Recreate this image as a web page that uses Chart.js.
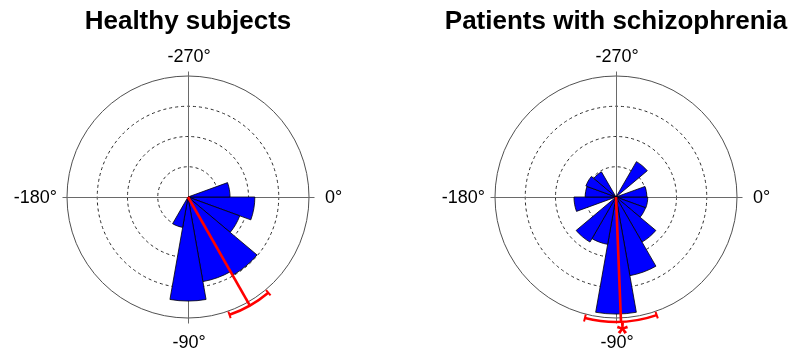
<!DOCTYPE html>
<html>
<head>
<meta charset="utf-8">
<script src="https://cdn.jsdelivr.net/npm/chart.js@4.4.1/dist/chart.umd.min.js"></script>
<style>
  html, body { margin: 0; padding: 0; background: #fff; }
  #wrap { position: relative; width: 803px; height: 354px; overflow: hidden; }
  #wrap canvas { position: absolute; top: 0; }
</style>
</head>
<body>
<div id="wrap">
  <canvas id="healthy" width="376" height="354" style="left:0px"></canvas>
  <canvas id="patients" width="372" height="354" style="left:430px"></canvas>
</div>
<script>
// 20° direction bins, listed clockwise from 0° (0..-20°, -20..-40°, ... , -340..-360°)
const binLabels = [
  '-10°', '-30°', '-50°', '-70°', '-90°', '-110°', '-130°', '-150°', '-170°',
  '-190°', '-210°', '-230°', '-250°', '-270°', '-290°', '-310°', '-330°', '-350°'
];

// Bin heights (radial units, outer ring = 40)
const healthyCounts = [22.1, 18.2, 29.8, 28.4, 34.4, 10.2, 0, 0, 0, 0, 0, 0, 0, 0, 0, 0, 0, 13.9];
const patientCounts = [10.5, 10.4, 17.2, 26.4, 38.7, 15.9, 17.2, 0, 13.9, 10.2, 10.6, 9.6, 0, 0, 0, 13.5, 0, 10.2];

// Group titles
const groupTitles = ['Healthy subjects', 'Patients with schizophrenia'];

// Mean direction (degrees) and half-width of its confidence interval
const meanDirection = [-60.3, -87.7];
const ciHalfWidth = [10.3, 16.7];
const meanLength = [41.3, 41.3];
const significant = [false, true];

// Ring values and axis direction labels
const ringValues = [0, 10, 20, 30, 40];
const axisLabels = { right: '0°', top: '-270°', left: '-180°', bottom: '-90°' };

const FONT = '"Liberation Sans", Arial, Helvetica, sans-serif';
const DEG = Math.PI / 180;
const RMAX = 40;

function polarPoint(scale, thetaDeg, value) {
  const d = scale.getDistanceFromCenterForValue(value);
  return {
    x: scale.xCenter + d * Math.cos(thetaDeg * DEG),
    y: scale.yCenter - d * Math.sin(thetaDeg * DEG)
  };
}

// Cross-hair axes through the centre (under the wedges) and the direction labels
const crossAxes = {
  id: 'crossAxes',
  beforeDatasetsDraw(chart) {
    const s = chart.scales.r;
    const ctx = chart.ctx;
    const ext = s.getDistanceFromCenterForValue(RMAX) + 5;
    const x = s.xCenter + 0.5, y = s.yCenter + 0.5;
    ctx.save();
    ctx.strokeStyle = '#6a6a6a';
    ctx.lineWidth = 1;
    ctx.beginPath();
    ctx.moveTo(x - ext, y); ctx.lineTo(x + ext, y);
    ctx.moveTo(x, y - ext); ctx.lineTo(x, y + ext);
    ctx.stroke();
    ctx.restore();
  },
  afterDraw(chart) {
    const s = chart.scales.r;
    const ctx = chart.ctx;
    const R = s.getDistanceFromCenterForValue(RMAX);
    const xc = s.xCenter, yc = s.yCenter;
    ctx.save();
    ctx.fillStyle = '#000';
    ctx.font = '18px ' + FONT;
    ctx.textBaseline = 'middle';
    ctx.textAlign = 'left';
    ctx.fillText(axisLabels.right, xc + R + 16, yc + 1);
    ctx.textAlign = 'right';
    ctx.fillText(axisLabels.left, xc - R - 10, yc + 1);
    ctx.textAlign = 'center';
    ctx.textBaseline = 'alphabetic';
    ctx.fillText(axisLabels.top, xc + 1, yc - R - 14);
    ctx.fillText(axisLabels.bottom, xc + 1, yc + R + 30);
    ctx.restore();
  }
};

// Mean direction line with its confidence arc
const meanArrow = {
  id: 'meanArrow',
  afterDatasetsDraw(chart, args, opts) {
    const s = chart.scales.r;
    const ctx = chart.ctx;
    const k = opts.group;
    const m = meanDirection[k], hw = ciHalfWidth[k], len = meanLength[k];
    const d = s.getDistanceFromCenterForValue(len);
    const end = polarPoint(s, m, len);
    ctx.save();
    ctx.strokeStyle = '#ff0000';
    ctx.lineWidth = 2.6;
    ctx.lineCap = 'butt';
    ctx.beginPath();
    ctx.moveTo(s.xCenter, s.yCenter);
    ctx.lineTo(end.x, end.y);
    ctx.stroke();
    ctx.beginPath();
    ctx.arc(s.xCenter, s.yCenter, d, -(m + hw) * DEG, -(m - hw) * DEG);
    ctx.stroke();
    ctx.lineWidth = 2;
    [m - hw, m + hw].forEach(t => {
      const c = Math.cos(t * DEG), sn = Math.sin(t * DEG);
      ctx.beginPath();
      ctx.moveTo(s.xCenter + (d - 3.5) * c, s.yCenter - (d - 3.5) * sn);
      ctx.lineTo(s.xCenter + (d + 3.5) * c, s.yCenter - (d + 3.5) * sn);
      ctx.stroke();
    });
    if (significant[k]) {
      const p = polarPoint(s, m, len + 3.2);
      ctx.fillStyle = '#ff0000';
      ctx.font = 'bold 29px ' + FONT;
      ctx.textAlign = 'center';
      ctx.textBaseline = 'alphabetic';
      ctx.fillText('*', p.x + 1, p.y + 11);
    }
    ctx.restore();
  }
};

function makeChart(canvasId, k, counts) {
  return new Chart(document.getElementById(canvasId), {
    type: 'polarArea',
    data: {
      labels: binLabels,
      datasets: [{
        label: groupTitles[k],
        data: counts,
        backgroundColor: '#0000ff',
        borderColor: '#000000',
        borderWidth: c => (c.raw > 0 ? 0.8 : 0)
      }]
    },
    options: {
      responsive: false,
      maintainAspectRatio: false,
      animation: false,
      events: [],
      layout: { padding: { left: 0, right: 0, top: 0, bottom: 35 } },
      scales: {
        r: {
          min: 0,
          max: RMAX,
          startAngle: 90,
          ticks: { display: false },
          afterBuildTicks: sc => { sc.ticks = ringValues.map(v => ({ value: v })); },
          grid: {
            circular: true,
            lineWidth: 1,
            color: c => (c.tick && c.tick.value === RMAX ? '#505050' : '#2a2a2a')
          },
          border: { dash: c => (c.tick && c.tick.value === RMAX ? [] : [3, 3]) },
          angleLines: { display: false },
          pointLabels: { display: false }
        }
      },
      plugins: {
        legend: { display: false },
        tooltip: { enabled: false },
        title: {
          display: true,
          text: groupTitles[k],
          fullSize: true,
          color: '#000',
          font: { family: FONT, size: 26, weight: 'bold' },
          padding: { top: 6.4, bottom: 38.4 }
        },
        meanArrow: { group: k }
      }
    },
    plugins: [crossAxes, meanArrow]
  });
}

makeChart('healthy', 0, healthyCounts);
makeChart('patients', 1, patientCounts);
</script>
</body>
</html>
